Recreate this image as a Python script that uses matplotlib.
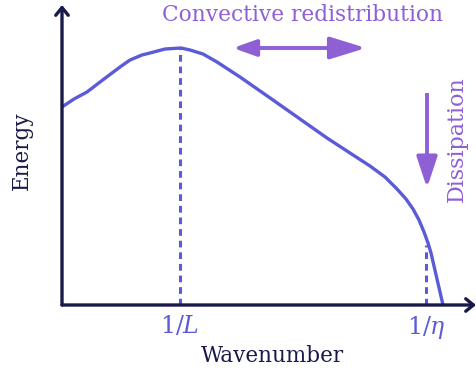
import matplotlib
matplotlib.use("Agg")
import matplotlib.pyplot as plt
from matplotlib.patches import FancyArrowPatch

plt.rcParams['font.family'] = ['DejaVu Serif']
plt.rcParams['mathtext.fontset'] = 'dejavuserif'

# Energy spectrum (arbitrary units: wavenumber, energy)
wavenumber = [0, 12, 25, 42, 58, 68, 80, 88, 103, 119, 128, 141, 155, 178,
              211, 238, 265, 288, 308, 323, 335, 344, 351, 357, 362, 366, 369, 381]
energy = [198, 206, 213, 226, 238, 245, 250, 252, 256, 257, 255, 251, 243, 228,
          205, 186, 167, 152, 139, 128, 116, 106, 96, 85, 73, 62, 52, 0]
k_L = 118         # 1/L, peak of the spectrum
E_L = 257
k_eta = 364       # 1/eta, dissipation scale
E_eta = 60
tick_labels = [r'$1/L$', r'$1/\eta$']

W, H = 476, 373
fig = plt.figure(figsize=(W / 100, H / 100), dpi=100)
ax = fig.add_axes([62 / W, 68 / H, 414 / W, 300 / H])
ax.set_xlim(0, 414)
ax.set_ylim(0, 300)
ax.axis('off')

curve_c = '#5b5bd8'
axis_c = '#1a1a4a'
purple = '#8f5fd6'

# axes with open arrowheads
for end in [(0, 300), (414, 0)]:
    ax.annotate('', xy=end, xytext=(0, 0), xycoords='data',
                arrowprops=dict(arrowstyle='->,head_length=0.55,head_width=0.45',
                                color=axis_c, lw=2.4, shrinkA=0, shrinkB=0),
                annotation_clip=False)

ax.plot(wavenumber, energy, color=curve_c, lw=2.4, solid_capstyle='butt',
        solid_joinstyle='round', clip_on=False)
ax.plot([k_L, k_L], [0, E_L], color=curve_c, lw=2.2, ls=(0, (2.2, 1.6)))
ax.plot([k_eta, k_eta], [0, E_eta], color=curve_c, lw=2.2, ls=(0, (2.2, 1.6)))

for k, lab in zip([k_L, k_eta], tick_labels):
    ax.text(k, -9, lab, ha='center', va='top', color=curve_c, fontsize=17)

fig.text(272 / W, 1 - 356 / H, 'Wavenumber', ha='center', va='center',
         color=axis_c, fontsize=15.5)
fig.text(22 / W, 1 - 151 / H, 'Energy', ha='center', va='center', rotation=90,
         color=axis_c, fontsize=15.5)
fig.text(302 / W, 1 - 15 / H, 'Convective redistribution', ha='center', va='center',
         color=purple, fontsize=15.6)
fig.text(457 / W, 1 - 139 / H, 'Dissipation', ha='center', va='center', rotation=90,
         color=purple, fontsize=16)

# annotation arrows
def farrow(p0, p1, hl, hw):
    fig.patches.append(FancyArrowPatch(
        (p0[0] / W, 1 - p0[1] / H), (p1[0] / W, 1 - p1[1] / H),
        transform=fig.transFigure, shrinkA=0, shrinkB=0,
        arrowstyle=f'-|>,head_length={hl},head_width={hw}', color=purple,
        lw=2.8, mutation_scale=1, capstyle='butt'))

farrow((300, 48), (233, 48), 14, 5)
farrow((298, 48), (366, 48), 22, 6.8)
farrow((427, 93), (427, 188), 19, 6.3)

fig.savefig('out.png', dpi=100)
